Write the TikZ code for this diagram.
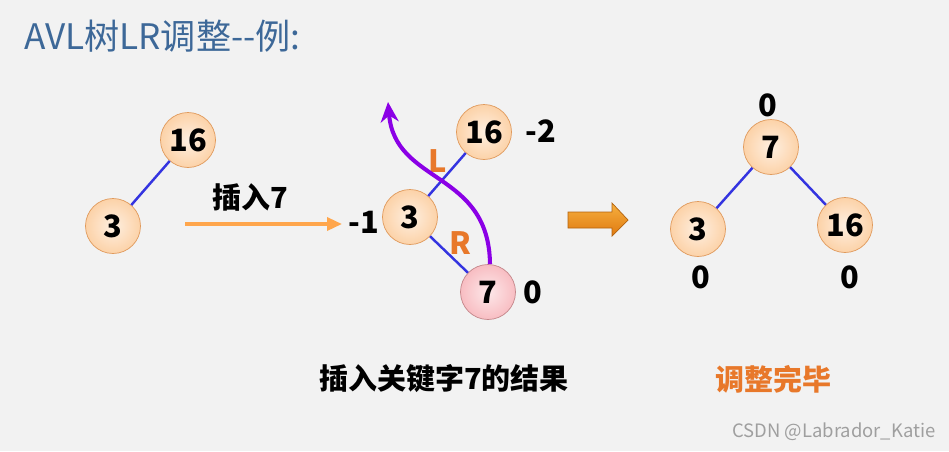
\documentclass[tikz,border=0pt]{standalone}
\usepackage{fontspec}
\setmainfont{Noto Sans CJK SC}
\usetikzlibrary{arrows.meta}

\definecolor{bgcol}{HTML}{F2F2F2}
\definecolor{titlecol}{HTML}{3D6898}
\definecolor{peach}{HTML}{FCD2A8}
\definecolor{peachline}{HTML}{E09A5C}
\definecolor{pinkfill}{HTML}{F8BDC2}
\definecolor{pinkline}{HTML}{C4868A}
\definecolor{edgecol}{HTML}{3434E0}
\definecolor{tagcol}{HTML}{E8782A}
\definecolor{turncol}{HTML}{8B00E6}
\definecolor{blockhi}{HTML}{F6B040}
\definecolor{blocklo}{HTML}{E07A10}

\begin{document}
\begin{tikzpicture}[
            x=0.02cm, y=-0.02cm,
            every node/.style={font=\bfseries\fontsize{17.5}{20}\selectfont},
            keynode/.style={
                    draw=peachline,
                    circle,
                    minimum size=1.1cm,
                    inner sep=0pt,
                    inner color=peach!35!white,
                    outer color=peach,
                    thin
                },
            newnode/.style={
                    keynode,
                    draw=pinkline,
                    inner color=pinkfill!35!white,
                    outer color=pinkfill
                },
            edge/.style={
                    edgecol,
                    line width=1.4pt
                },
            arrow/.style={
                    -{Triangle[length=3mm,width=2.6mm]},
                    line width=1.9pt,
                    orange!70!white
                },
            tag/.style={
                    text=tagcol
                },
            caption/.style={
                    font=\bfseries\fontsize{16.5}{19}\selectfont
                }
        ]

        % background and frame
        \fill[bgcol] (0,0) rectangle (949,451);
        \useasboundingbox (0,0) rectangle (949,451);

        \node[anchor=west, font=\fontsize{20}{24}\selectfont, text=titlecol] (title) at (18,36)
        {AVL树LR调整{-}{-}例:};

        % before insertion
        \node[keynode] (a16) at (188,140) {16};
        \node[keynode] (a3) at (113,226) {3};
        \draw[edge] (a16) -- (a3);

        \coordinate (insS) at (185,224);
        \coordinate (insE) at (342,224);
        \draw[arrow] (insS) -- (insE);
        \node[caption] (ins) at (250,197) {插入7};

        % after insertion
        \node[keynode] (b16) at (484,132) {16};
        \node[keynode] (b3) at (410,217) {3};
        \node[newnode] (b7) at (488,292) {7};
        \draw[edge] (b16) -- (b3);
        \draw[edge] (b3) -- (b7);

        \node (bf16) at (541,131) {-2};
        \node (bf3) at (364,222) {-1};
        \node (bf7) at (533,292) {0};

        \node[tag] (tagL) at (438,161) {L};
        \node[tag] (tagR) at (460,243) {R};

        \coordinate (tip) at (388,102);
        \draw[-{Stealth[length=4mm,width=3.6mm]}, turncol, line width=2.3pt]
            ([xshift=0.04cm]b7.north) .. controls (489,170) and (395,185) .. (tip);

        % block arrow
        \shade[top color=blockhi, bottom color=blocklo, draw=blocklo!80!black, thin]
            (568,212) -- (612,212) -- (612,203) -- (628,220) -- (612,236)
            -- (612,228) -- (568,228) -- cycle;

        % after adjustment
        \node[keynode] (c7) at (771,147) {7};
        \node[keynode] (c3) at (698,229) {3};
        \node[keynode] (c16) at (845,225) {16};
        \draw[edge] (c7) -- (c3);
        \draw[edge] (c7) -- (c16);

        \node (bfc7) at (768,105) {0};
        \node (bfc3) at (701,277) {0};
        \node (bfc16) at (850,277) {0};

        \node[caption] (cap1) at (444,379) {插入关键字7的结果};
        \node[caption, tag] (cap2) at (773,379) {调整完毕};

        \node[font=\fontsize{10.5}{12}\selectfont, text=gray!75] (mark) at (834,432)
        {CSDN @Labrador\_Katie};

    \end{tikzpicture}
\end{document}
